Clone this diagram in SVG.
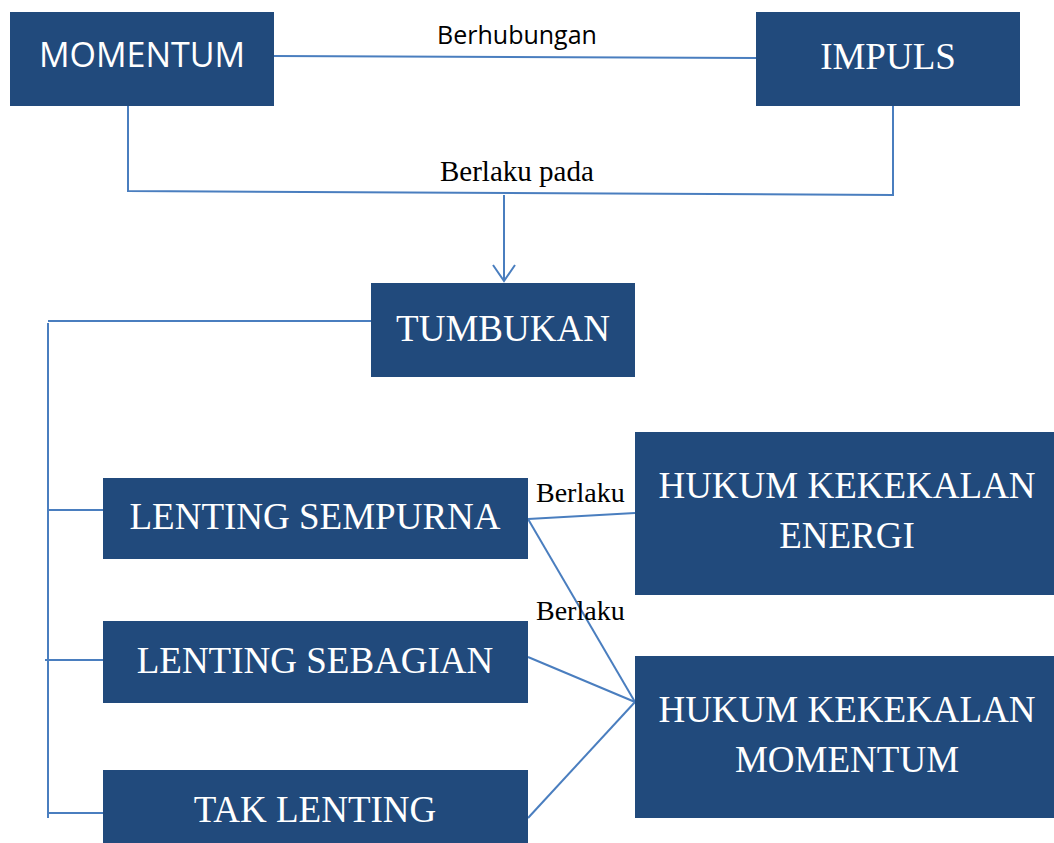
<svg xmlns="http://www.w3.org/2000/svg" width="1054" height="843" viewBox="0 0 1054 843">
<style>
.box{fill:#214A7C}
.ln{stroke:#4A7EBF;stroke-width:2;fill:none}
.ts{font-family:"Liberation Serif","Times New Roman",serif;font-size:37px;fill:#fff;text-anchor:middle}
.tsans{font-family:"Open Sans","Liberation Sans",sans-serif;font-size:34px;fill:#fff;text-anchor:middle}
.lbl{font-family:"Liberation Serif","Times New Roman",serif;font-size:28px;fill:#000}
.lbls{font-family:"Open Sans","Liberation Sans",sans-serif;font-size:25px;fill:#000;text-anchor:middle}
</style>
<rect width="1054" height="843" fill="#fff"/>
<g id="connectors">
<line class="ln" x1="274" y1="56" x2="756" y2="58"/>
<polyline class="ln" points="128,106 128,191 893,195 893,106"/>
<line class="ln" x1="504" y1="195" x2="504" y2="281"/>
<polyline class="ln" points="493,265 504,281 515,265"/>
<polyline class="ln" points="371,321 48,321"/>
<line class="ln" x1="48" y1="323" x2="48" y2="818"/>
<line class="ln" x1="48" y1="510" x2="103" y2="510"/>
<line class="ln" x1="45" y1="660" x2="103" y2="660"/>
<line class="ln" x1="48" y1="813" x2="103" y2="813"/>
<line class="ln" x1="528" y1="519" x2="635" y2="513"/>
<line class="ln" x1="528" y1="519" x2="635" y2="702"/>
<line class="ln" x1="528" y1="657" x2="635" y2="702"/>
<line class="ln" x1="528" y1="818" x2="635" y2="702"/>
<text class="lbls" x="517" y="44">Berhubungan</text>
<text class="lbl" x="440" y="181" style="font-size:29px">Berlaku pada</text>
<text class="lbl" x="536" y="502">Berlaku</text>
<text class="lbl" x="536" y="620">Berlaku</text>
</g>
<g id="momentum"><rect class="box" x="10" y="12" width="264" height="94"/><text class="tsans" x="142" y="67">MOMENTUM</text></g>
<g id="impuls"><rect class="box" x="756" y="12" width="264" height="94"/><text class="ts" x="888" y="69">IMPULS</text></g>
<g id="tumbukan"><rect class="box" x="371" y="283" width="264" height="94"/><text class="ts" x="503" y="341">TUMBUKAN</text></g>
<g id="lenting-sempurna"><rect class="box" x="103" y="478" width="425" height="81"/><text class="ts" x="315" y="529">LENTING SEMPURNA</text></g>
<g id="lenting-sebagian"><rect class="box" x="103" y="621" width="425" height="82"/><text class="ts" x="315" y="673">LENTING SEBAGIAN</text></g>
<g id="tak-lenting"><rect class="box" x="103" y="770" width="425" height="73"/><text class="ts" x="315" y="822">TAK LENTING</text></g>
<g id="hk-energi"><rect class="box" x="635" y="432" width="419" height="163"/><text class="ts" x="847" y="498">HUKUM KEKEKALAN</text><text class="ts" x="847" y="548">ENERGI</text></g>
<g id="hk-momentum"><rect class="box" x="635" y="656" width="419" height="162"/><text class="ts" x="847" y="722">HUKUM KEKEKALAN</text><text class="ts" x="847" y="772">MOMENTUM</text></g>
</svg>
